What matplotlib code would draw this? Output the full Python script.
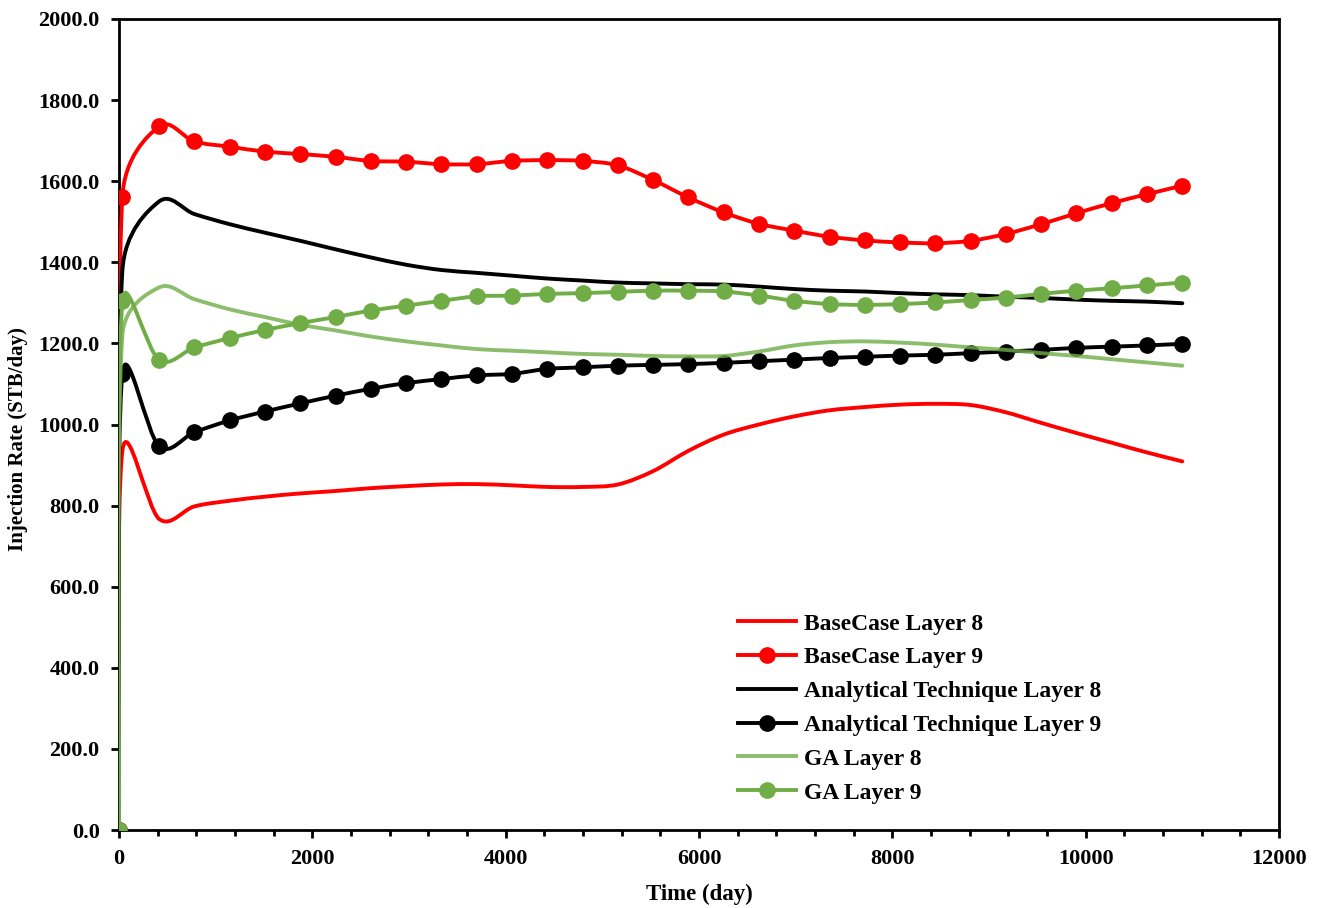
import numpy as np
import matplotlib
matplotlib.use("Agg")
import matplotlib.pyplot as plt
from matplotlib.path import Path
from matplotlib.patches import PathPatch
from matplotlib.lines import Line2D
from matplotlib.ticker import MultipleLocator, FormatStrFormatter

# Time steps (day): start, first report, then yearly reports
time_days = [0, 35] + [415 + 365 * k for k in range(30)]

base_l8 = [0, 935, 767, 798, 812, 822, 830, 836, 843, 848, 852, 853, 850, 846, 846, 852,
           885, 935, 975, 1000, 1020, 1035, 1043, 1049, 1051, 1048, 1030, 1004, 979, 955, 931, 909]
base_l9 = [0, 1562, 1735, 1698, 1685, 1673, 1667, 1660, 1650, 1648, 1642, 1642, 1650, 1652,
           1650, 1639, 1603, 1560, 1523, 1495, 1478, 1463, 1454, 1449, 1447, 1453, 1470, 1494,
           1521, 1546, 1568, 1589]
anal_l8 = [0, 1380, 1550, 1519, 1494, 1473, 1453, 1432, 1412, 1394, 1381, 1374, 1367, 1360,
           1355, 1350, 1348, 1346, 1345, 1340, 1334, 1330, 1328, 1324, 1321, 1319, 1315, 1312,
           1308, 1305, 1303, 1299]
anal_l9 = [0, 1125, 946, 981, 1010, 1032, 1052, 1071, 1088, 1102, 1112, 1121, 1125, 1137,
           1141, 1145, 1147, 1149, 1152, 1156, 1160, 1164, 1167, 1170, 1172, 1176, 1180, 1184,
           1189, 1192, 1195, 1199]
ga_l8 = [0, 1220, 1338, 1309, 1284, 1265, 1246, 1232, 1217, 1205, 1195, 1186, 1182, 1178,
         1174, 1172, 1169, 1168, 1169, 1180, 1195, 1203, 1205, 1202, 1197, 1190, 1184, 1176,
         1169, 1161, 1153, 1145]
ga_l9 = [0, 1305, 1159, 1190, 1213, 1233, 1250, 1265, 1281, 1293, 1305, 1316, 1318, 1322,
         1324, 1327, 1330, 1330, 1328, 1318, 1305, 1297, 1295, 1297, 1301, 1307, 1313, 1322,
         1330, 1336, 1343, 1350]

labels = ["BaseCase Layer 8", "BaseCase Layer 9", "Analytical Technique Layer 8",
          "Analytical Technique Layer 9", "GA Layer 8", "GA Layer 9"]

RED = "#FF0000"
BLACK = "#000000"
GREEN = "#70AD47"

plt.rcParams["font.family"] = ["Liberation Serif", "DejaVu Serif"]
plt.rcParams["font.weight"] = "bold"


def smooth_path(ax, x, y):
    """Excel-style smoothed line: Bezier through every point, handles worked out
    in screen space and capped at half the segment length."""
    tr = ax.transData
    pts = tr.transform(np.column_stack([x, y]).astype(float))
    n = len(pts)
    verts = [pts[0]]
    codes = [Path.MOVETO]
    for i in range(n - 1):
        p0 = pts[i - 1] if i > 0 else pts[i]
        p1 = pts[i]
        p2 = pts[i + 1]
        p3 = pts[i + 2] if i + 2 < n else pts[i + 1]
        half = np.hypot(*(p2 - p1)) / 2.0
        t1 = (p2 - p0) / 6.0
        t2 = (p3 - p1) / 6.0
        l1 = np.hypot(*t1)
        l2 = np.hypot(*t2)
        if l1 > half:
            t1 = t1 * half / l1
        if l2 > half:
            t2 = t2 * half / l2
        verts += [p1 + t1, p2 - t2, p2]
        codes += [Path.CURVE4] * 3
    return Path(tr.inverted().transform(np.array(verts)), codes)


fig = plt.figure(figsize=(13.22, 9.08), dpi=100)
ax = fig.add_axes([119 / 1322, 1 - 830 / 908, 1160 / 1322, 811 / 908])
ax.set_xlim(0, 12000)
ax.set_ylim(0, 2000)

series = [
    (base_l8, RED, 1.0, False),
    (base_l9, RED, 1.0, True),
    (anal_l8, BLACK, 1.0, False),
    (anal_l9, BLACK, 1.0, True),
    (ga_l8, GREEN, 0.8, False),
    (ga_l9, GREEN, 1.0, True),
]

handles = []
for z, (vals, col, alpha, mark) in enumerate(series):
    patch = PathPatch(smooth_path(ax, time_days, vals), fill=False, edgecolor=col, lw=2.8,
                      alpha=alpha, capstyle="round", joinstyle="round", zorder=2 + z)
    ax.add_patch(patch)
    if mark:
        ax.plot(time_days, vals, linestyle="none", marker="o", ms=11, color=col,
                zorder=2 + z)
    handles.append(Line2D([], [], color=col, lw=2.8, alpha=alpha,
                          marker="o" if mark else None, ms=11))

ax.xaxis.set_major_locator(MultipleLocator(2000))
ax.xaxis.set_minor_locator(MultipleLocator(400))
ax.yaxis.set_major_locator(MultipleLocator(200))
ax.yaxis.set_major_formatter(FormatStrFormatter("%.1f"))
ax.tick_params(axis="y", which="major", direction="out", length=6, width=2,
               labelsize=16, pad=8)
ax.tick_params(axis="x", which="major", direction="out", length=6, width=2,
               labelsize=16, pad=8)
ax.tick_params(axis="x", which="minor", direction="out", length=4, width=2)
for lab in ax.get_xticklabels() + ax.get_yticklabels():
    lab.set_fontweight("bold")
for sp in ax.spines.values():
    sp.set_linewidth(2)

ax.set_xlabel("Time (day)", fontsize=16.5, fontweight="bold")
ax.set_ylabel("Injection Rate (STB/day)", fontsize=15, fontweight="bold")
ax.xaxis.set_label_coords(0.5, (830 - 894) / 811)
ax.xaxis.label.set_va("center")
ax.yaxis.set_label_coords((18 - 119) / 1160, (830 - 439) / 811)
ax.yaxis.label.set_va("center")

ax.legend(handles, labels, loc="upper left", frameon=False,
          prop={"weight": "bold", "size": 17},
          bbox_to_anchor=(738 / 1322, 1 - 613 / 908), bbox_transform=fig.transFigure,
          borderpad=0, borderaxespad=0, handlelength=2.45, handletextpad=0.33,
          labelspacing=0.52)

fig.savefig("out.png", dpi=100)
